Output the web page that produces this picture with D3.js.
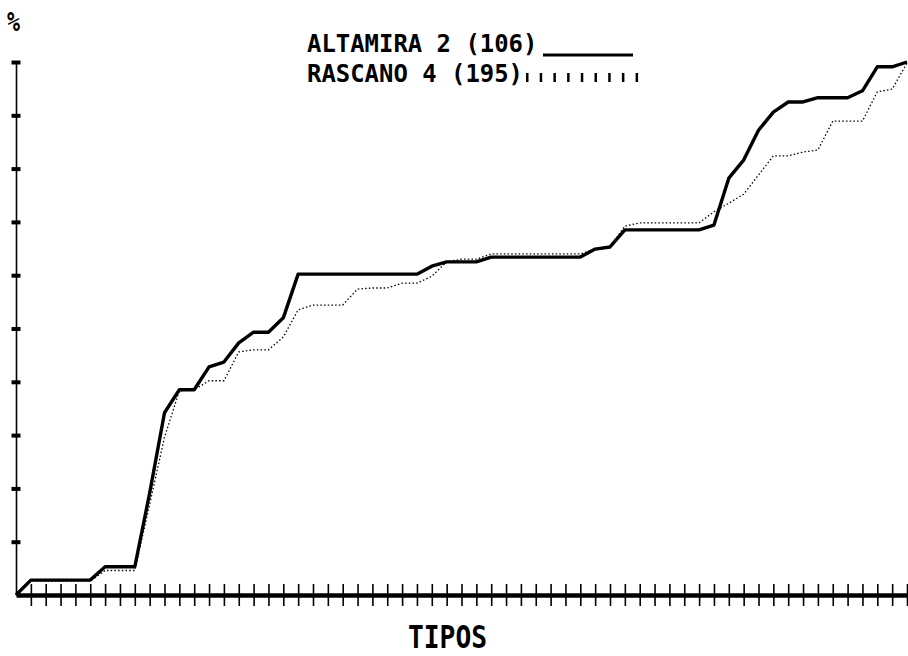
<!DOCTYPE html>
<html>
<head>
<meta charset="utf-8">
<script src="https://cdn.jsdelivr.net/npm/d3@7/dist/d3.min.js"></script>
<style>
  html, body { margin: 0; padding: 0; background: #fff; }
  svg { display: block; }
  text { font-family: "DejaVu Sans Mono", monospace; font-weight: bold; fill: #000; }
</style>
</head>
<body>
<svg id="chart" width="908" height="656"></svg>
<script>
// ---- data ----
const types = d3.range(0, 61);
const altamira = [0, 2.8, 2.8, 2.8, 2.8, 2.8, 5.3, 5.3, 5.3, 19.1, 34.2, 38.5, 38.5, 42.8, 43.7, 47.3, 49.3, 49.3, 52.0,
  60.2, 60.2, 60.2, 60.2, 60.2, 60.2, 60.2, 60.2, 60.2, 61.7, 62.5, 62.5, 62.5,
  63.4, 63.4, 63.4, 63.4, 63.4, 63.4, 63.4, 64.9, 65.3, 68.5, 68.5, 68.5, 68.5, 68.5, 68.5,
  69.4, 78.2, 81.6, 87.2, 90.6, 92.5, 92.5, 93.3, 93.3, 93.3, 94.6, 99.1, 99.1, 100];
const rascano = [0, 2.6, 2.6, 2.6, 2.6, 2.6, 4.6, 4.6, 4.6, 17, 29.6, 38.3, 38.5, 40.2, 40.2, 45.6, 46, 46, 48.4,
  53.5, 54.4, 54.4, 54.4, 57.4, 57.6, 57.6, 58.5, 58.5, 59.8, 62.5, 63.0, 63.0,
  64.0, 64.0, 64.0, 64.0, 64.0, 64.0, 64.0, 64.9, 65.3, 69.2, 69.8, 69.8, 69.8, 69.8, 69.8,
  71.9, 73.5, 75.2, 78.8, 82.4, 82.4, 83.1, 83.5, 88.9, 88.9, 88.9, 94.4, 94.9, 99.8];
const yTicks = [10, 20, 30, 40, 50, 60, 70, 80, 90, 100];
const xTicks = d3.range(1, 61);
const seriesNames = ["ALTAMIRA 2 (106)", "RASCANO 4 (195)"];
const yLabel = "%";
const xLabel = "TIPOS";

// ---- drawing ----
const svg = d3.select("#chart");
const x = d3.scaleLinear().domain([0, 60]).range([16, 907]);
const y = d3.scaleLinear().domain([0, 100]).range([595, 62]);

// y axis
const yAxis = svg.append("g").attr("transform", `translate(${x(0)},0)`)
  .call(d3.axisLeft(y).tickValues(yTicks).tickFormat("").tickSizeOuter(0).tickSizeInner(9));
yAxis.select(".domain").attr("stroke", "#000").attr("stroke-width", 1.6);
yAxis.selectAll(".tick line").attr("x1", -4.5).attr("x2", 4.5)
  .attr("stroke", "#000").attr("stroke-width", 4);

// x axis
const xAxis = svg.append("g").attr("transform", `translate(0,${y(0)})`)
  .call(d3.axisBottom(x).tickValues(xTicks).tickFormat("").tickSizeOuter(0).tickSizeInner(11));
xAxis.select(".domain").attr("stroke", "#000").attr("stroke-width", 4.5);
xAxis.selectAll(".tick line").attr("y1", -11).attr("y2", 11)
  .attr("stroke", "#000").attr("stroke-width", 1.6);

// lines
const line = d3.line().x((d, i) => x(types[i])).y(d => y(d));
svg.append("path").datum(rascano).attr("d", line)
  .attr("fill", "none").attr("stroke", "#000").attr("stroke-width", 1.3)
  .attr("stroke-dasharray", "1.5 2.2");
svg.append("path").datum(altamira).attr("d", line)
  .attr("fill", "none").attr("stroke", "#000").attr("stroke-width", 3.4)
  .attr("stroke-linejoin", "round");

// labels
svg.append("text").attr("x", 7).attr("y", 31)
  .attr("font-size", 26).attr("textLength", 13).attr("lengthAdjust", "spacingAndGlyphs")
  .text(yLabel);
svg.append("text").attr("x", 408).attr("y", 648)
  .attr("font-size", 32).attr("textLength", 79).attr("lengthAdjust", "spacingAndGlyphs")
  .text(xLabel);

// legend
const legY = [52, 82];
seriesNames.forEach((name, i) => {
  svg.append("text").attr("x", 307).attr("y", legY[i])
    .attr("font-size", 25.5).attr("textLength", name.length * 14.4).attr("lengthAdjust", "spacingAndGlyphs")
    .text(name);
});
svg.append("line").attr("x1", 543).attr("x2", 633).attr("y1", 55).attr("y2", 55)
  .attr("stroke", "#000").attr("stroke-width", 3);
svg.append("line").attr("x1", 526).attr("x2", 640).attr("y1", 77.5).attr("y2", 77.5)
  .attr("stroke", "#000").attr("stroke-width", 9).attr("stroke-dasharray", "2.5 11.2");
</script>
</body>
</html>
